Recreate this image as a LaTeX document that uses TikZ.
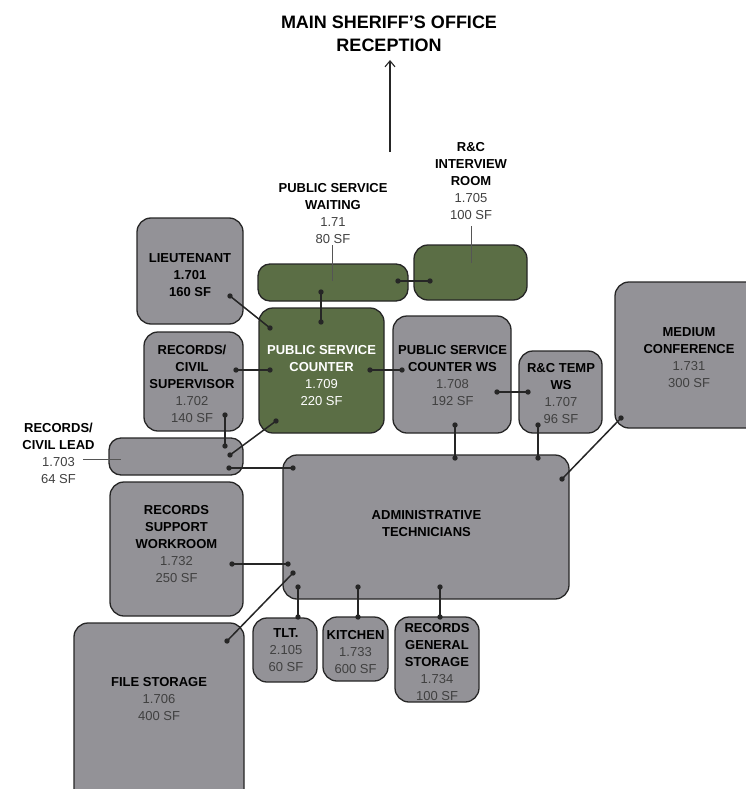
\documentclass[tikz,border=0pt]{standalone}
\usepackage{fontspec}
\setmainfont{Liberation Sans}
\usetikzlibrary{arrows.meta}
\definecolor{roomgray}{HTML}{939297}
\definecolor{roomgreen}{HTML}{5B6E45}
\definecolor{edgecol}{HTML}{262626}
\definecolor{numcol}{HTML}{404040}
\definecolor{leadcol}{HTML}{555555}
\newcommand\rmname[1]{\textbf{#1}}
\newcommand\rmnum[1]{{\color{numcol}#1}}
\tikzset{
  room/.style={draw=edgecol, line width=1.3pt, rounded corners=14pt, fill=roomgray,
    inner sep=0pt, outer sep=0pt},
  greenroom/.style={room, fill=roomgreen},
  lbl/.style={align=center, font=\fontsize{13}{17}\selectfont, inner sep=0pt},
  link/.style={draw=edgecol, line width=1.5pt},
  linkdot/.style={fill=edgecol},
  leader/.style={draw=leadcol, line width=1pt},
}
\begin{document}
\begin{tikzpicture}[x=1pt, y=-1pt]
\useasboundingbox (0,0) rectangle (746,789);
\clip (0,0) rectangle (746,789);

% rooms
\node[room, minimum width=106pt, minimum height=106pt] (lieut) at (190,271) {};
\node[greenroom, minimum width=150pt, minimum height=37pt, rounded corners=12pt] (wait) at (333,282.5) {};
\node[greenroom, minimum width=113pt, minimum height=55pt] (interview) at (470.5,272.5) {};
\node[greenroom, minimum width=125pt, minimum height=125pt] (counter) at (321.5,370.5) {};
\node[room, minimum width=99pt, minimum height=99pt] (super) at (193.5,381.5) {};
\node[room, minimum width=134pt, minimum height=37pt, rounded corners=12pt] (lead) at (176,456.5) {};
\node[room, minimum width=118pt, minimum height=117pt] (ws) at (452,374.5) {};
\node[room, minimum width=83pt, minimum height=82pt] (temp) at (560.5,392) {};
\node[room, minimum width=155pt, minimum height=146pt] (conf) at (692.5,355) {};
\node[room, minimum width=286pt, minimum height=144pt] (admin) at (426,527) {};
\node[room, minimum width=133pt, minimum height=134pt] (work) at (176.5,549) {};
\node[room, minimum width=170pt, minimum height=197pt] (files) at (159,721.5) {};
\node[room, minimum width=64pt, minimum height=64pt] (tlt) at (285,650) {};
\node[room, minimum width=65pt, minimum height=64pt] (kitchen) at (355.5,649) {};
\node[room, minimum width=84pt, minimum height=85pt] (rgs) at (437,659.5) {};

% labels
\node[lbl, font=\fontsize{18}{23}\selectfont] (title) at (389,34)
  {\rmname{MAIN SHERIFF’S OFFICE}\\\rmname{RECEPTION}};
\node[lbl] (tlieut) at (190,275.5) {\rmname{LIEUTENANT}\\\rmname{1.701}\\\rmname{160 SF}};
\node[lbl] (twait) at (333,214) {\rmname{PUBLIC SERVICE}\\\rmname{WAITING}\\\rmnum{1.71}\\\rmnum{80 SF}};
\node[lbl] (tinterview) at (471,181) {\rmname{R\&C}\\\rmname{INTERVIEW}\\\rmname{ROOM}\\\rmnum{1.705}\\\rmnum{100 SF}};
\node[lbl, text=white] (tcounter) at (321.5,376) {\rmname{PUBLIC SERVICE}\\\rmname{COUNTER}\\1.709\\220 SF};
\node[lbl] (tsuper) at (192,384) {\rmname{RECORDS/}\\\rmname{CIVIL}\\\rmname{SUPERVISOR}\\\rmnum{1.702}\\\rmnum{140 SF}};
\node[lbl] (tlead) at (58.5,453) {\rmname{RECORDS/}\\\rmname{CIVIL LEAD}\\\rmnum{1.703}\\\rmnum{64 SF}};
\node[lbl] (tws) at (452.5,376) {\rmname{PUBLIC SERVICE}\\\rmname{COUNTER WS}\\\rmnum{1.708}\\\rmnum{192 SF}};
\node[lbl] (ttemp) at (561,393.5) {\rmname{R\&C TEMP}\\\rmname{WS}\\\rmnum{1.707}\\\rmnum{96 SF}};
\node[lbl] (tconf) at (689,357.5) {\rmname{MEDIUM}\\\rmname{CONFERENCE}\\\rmnum{1.731}\\\rmnum{300 SF}};
\node[lbl] (tadmin) at (426.5,523.5) {\rmname{ADMINISTRATIVE}\\\rmname{TECHNICIANS}};
\node[lbl] (twork) at (176.5,544) {\rmname{RECORDS}\\\rmname{SUPPORT}\\\rmname{WORKROOM}\\\rmnum{1.732}\\\rmnum{250 SF}};
\node[lbl] (tfiles) at (159,699) {\rmname{FILE STORAGE}\\\rmnum{1.706}\\\rmnum{400 SF}};
\node[lbl] (ttlt) at (286,650) {\rmname{TLT.}\\\rmnum{2.105}\\\rmnum{60 SF}};
\node[lbl] (tkitchen) at (355.5,652) {\rmname{KITCHEN}\\\rmnum{1.733}\\\rmnum{600 SF}};
\node[lbl] (trgs) at (437,662) {\rmname{RECORDS}\\\rmname{GENERAL}\\\rmname{STORAGE}\\\rmnum{1.734}\\\rmnum{100 SF}};

% leader lines from labels to their rooms
\coordinate (wl1) at (332,245);  \coordinate (wl2) at (332,281);
\coordinate (il1) at (471,226);  \coordinate (il2) at (471,263);
\coordinate (ll1) at (83,459);   \coordinate (ll2) at (121,459);
\draw[leader] (wl1) -- (wl2);
\draw[leader] (il1) -- (il2);
\draw[leader] (ll1) -- (ll2);

% exit towards reception
\coordinate (exA) at (390,152);
\coordinate (exB) at (390,60);
\draw[draw=edgecol, line width=1.1pt, -{Straight Barb[length=6pt, width=10pt]}] (exA) -- (exB);

% adjacency links, a dot at each end
\coordinate (a1) at (398,281); \coordinate (a2) at (430,281);
\coordinate (b1) at (321,292); \coordinate (b2) at (321,322);
\coordinate (c1) at (230,296); \coordinate (c2) at (270,328);
\coordinate (d1) at (236,370); \coordinate (d2) at (270,370);
\coordinate (e1) at (370,370); \coordinate (e2) at (402,370);
\coordinate (f1) at (497,392); \coordinate (f2) at (528,392);
\coordinate (g1) at (225,415); \coordinate (g2) at (225,446);
\coordinate (h1) at (276,421); \coordinate (h2) at (230,455);
\coordinate (i1) at (229,468); \coordinate (i2) at (293,468);
\coordinate (j1) at (455,425); \coordinate (j2) at (455,458);
\coordinate (k1) at (538,425); \coordinate (k2) at (538,458);
\coordinate (m1) at (621,418); \coordinate (m2) at (562,479);
\coordinate (n1) at (232,564); \coordinate (n2) at (288,564);
\coordinate (o1) at (227,641); \coordinate (o2) at (293,573);
\coordinate (p1) at (298,587); \coordinate (p2) at (298,617);
\coordinate (q1) at (358,587); \coordinate (q2) at (358,617);
\coordinate (r1) at (440,587); \coordinate (r2) at (440,617);
\foreach \s in {a,b,c,d,e,f,g,h,i,j,k,m,n,o,p,q,r}{
  \draw[link] (\s1) -- (\s2);
  \fill[linkdot] (\s1) circle (2.7pt) (\s2) circle (2.7pt);
}
\end{tikzpicture}
\end{document}
